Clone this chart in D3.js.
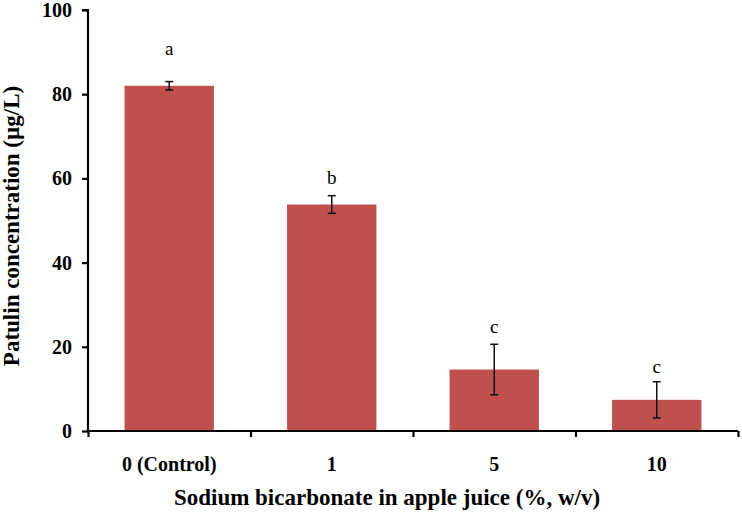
<!DOCTYPE html>
<html>
<head>
<meta charset="utf-8">
<script src="https://cdn.jsdelivr.net/npm/d3@7"></script>
<style>
  body { margin: 0; background: #fff; }
  text { font-family: "Liberation Serif", "Times New Roman", serif; }
</style>
</head>
<body>
<div id="chart"></div>
<script>
// data
var categories = ["0 (Control)", "1", "5", "10"];
var means = [82.0, 53.8, 14.6, 7.4];
var errors = [1.0, 2.1, 6.0, 4.3];
var letters = ["a", "b", "c", "c"];
var letterY = [89.3, 58.7, 23.3, 13.8];
var yTicks = [0, 20, 40, 60, 80, 100];

var svgWidth = 742;
var svgHeight = 513;

var margin = { top: 10, right: 4, bottom: 82, left: 88 };
var width = svgWidth - margin.left - margin.right;
var height = svgHeight - margin.top - margin.bottom;

var svg = d3.select("#chart")
  .append("svg")
  .attr("width", svgWidth)
  .attr("height", svgHeight)
  .style("background", "#fff");

var chartGroup = svg.append("g")
  .attr("transform", `translate(${margin.left}, ${margin.top})`);

var x = d3.scaleBand()
  .domain(categories)
  .range([0, width])
  .paddingInner(0.45)
  .paddingOuter(0.225);

// boundary ticks between categories
var xEdge = d3.scaleLinear()
  .domain([0, categories.length])
  .range([0, width]);

var y = d3.scaleLinear()
  .domain([0, 100])
  .range([height, 0]);

// bars
chartGroup.selectAll(".bar")
  .data(means)
  .enter()
  .append("rect")
  .attr("class", "bar")
  .attr("x", (d, i) => x(categories[i]))
  .attr("y", d => y(d))
  .attr("width", x.bandwidth())
  .attr("height", d => height - y(d))
  .attr("fill", "#C0504D");

// error bars
var eb = chartGroup.selectAll(".err")
  .data(means)
  .enter()
  .append("g")
  .attr("class", "err")
  .attr("stroke", "#111")
  .attr("stroke-width", 1.5);

eb.append("line")
  .attr("x1", (d, i) => x(categories[i]) + x.bandwidth() / 2)
  .attr("x2", (d, i) => x(categories[i]) + x.bandwidth() / 2)
  .attr("y1", (d, i) => y(d - errors[i]))
  .attr("y2", (d, i) => y(d + errors[i]));

[-1, 1].forEach(function(s) {
  eb.append("line")
    .attr("x1", (d, i) => x(categories[i]) + x.bandwidth() / 2 - 4)
    .attr("x2", (d, i) => x(categories[i]) + x.bandwidth() / 2 + 4)
    .attr("y1", (d, i) => y(d + s * errors[i]))
    .attr("y2", (d, i) => y(d + s * errors[i]));
});

// significance letters
chartGroup.selectAll(".sig")
  .data(letters)
  .enter()
  .append("text")
  .attr("class", "sig")
  .attr("x", (d, i) => x(categories[i]) + x.bandwidth() / 2)
  .attr("y", (d, i) => y(letterY[i]))
  .attr("text-anchor", "middle")
  .attr("font-size", "19px")
  .attr("fill", "#000")
  .text(d => d);

// axes
var leftAxis = d3.axisLeft(y)
  .tickValues(yTicks)
  .tickSize(6)
  .tickPadding(10);

var yAxisG = chartGroup.append("g").call(leftAxis);
yAxisG.select(".domain").attr("d", `M0,${height}V0H-6`).attr("stroke-width", 2.2);
yAxisG.selectAll(".tick line").attr("stroke-width", 2.2);
yAxisG.selectAll(".tick text")
  .attr("font-size", "20px")
  .attr("font-weight", "bold")
  .attr("fill", "#000");

var edgeAxis = d3.axisBottom(xEdge)
  .ticks(categories.length)
  .tickSize(6)
  .tickFormat("");

var xEdgeG = chartGroup.append("g")
  .attr("transform", `translate(0, ${height})`)
  .call(edgeAxis);
xEdgeG.select(".domain").attr("d", `M0,0H${width}`).attr("stroke-width", 2.2);
xEdgeG.selectAll(".tick line").attr("stroke-width", 2.2);

var bottomAxis = d3.axisBottom(x)
  .tickSize(0)
  .tickPadding(26);

var xAxisG = chartGroup.append("g")
  .attr("transform", `translate(0, ${height})`)
  .call(bottomAxis);
xAxisG.select(".domain").remove();
xAxisG.selectAll(".tick text")
  .attr("font-size", "20px")
  .attr("font-weight", "bold")
  .attr("fill", "#000");

// axis titles
chartGroup.append("text")
  .attr("transform", `translate(${19 - margin.left}, ${226 - margin.top}) rotate(-90)`)
  .attr("text-anchor", "middle")
  .attr("font-size", "23px")
  .attr("font-weight", "bold")
  .text("Patulin concentration (µg/L)");

chartGroup.append("text")
  .attr("x", 387 - margin.left)
  .attr("y", 505 - margin.top)
  .attr("text-anchor", "middle")
  .attr("font-size", "23px")
  .attr("font-weight", "bold")
  .text("Sodium bicarbonate in apple juice (%, w/v)");
</script>
</body>
</html>
